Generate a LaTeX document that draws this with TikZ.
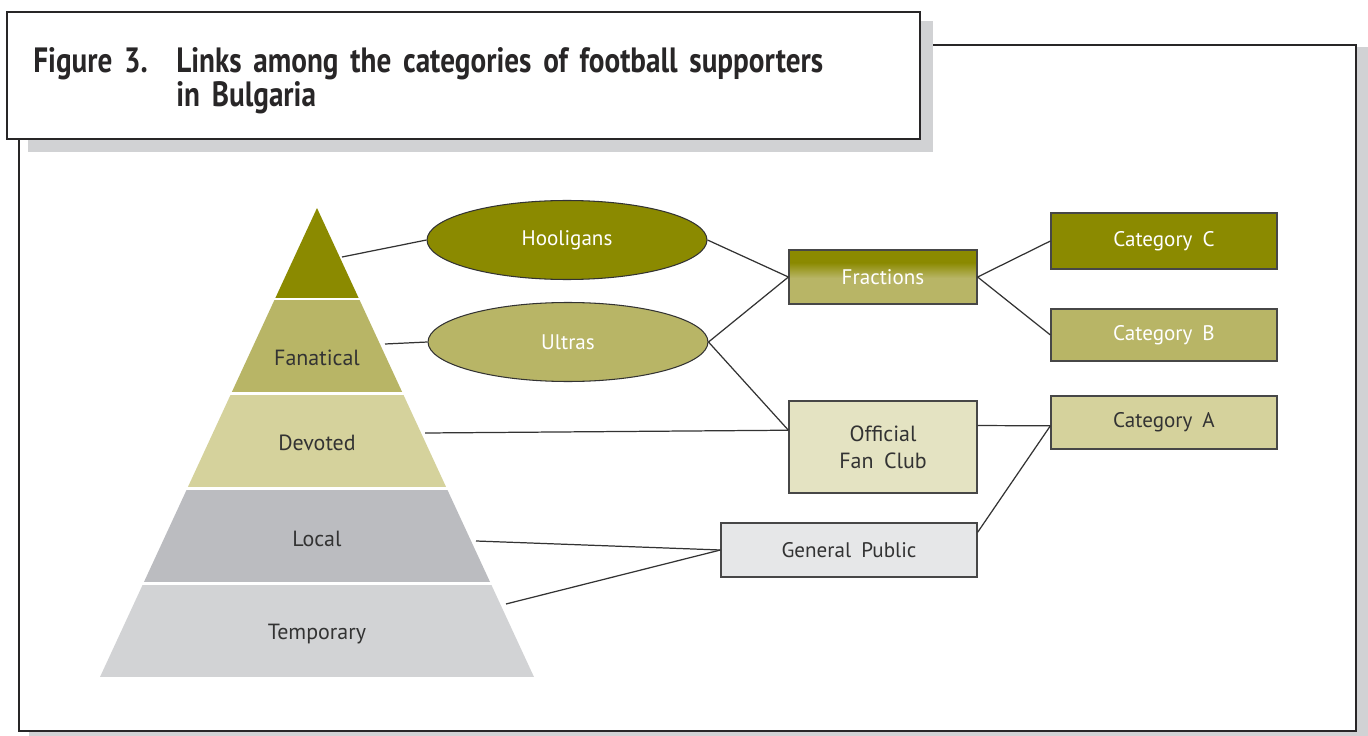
\documentclass[tikz,border=0pt]{standalone}
\usepackage{fontspec}
\setmainfont{PT Sans}[WordSpace=1.8]
\newfontfamily\titlefont{PT Sans}[FakeStretch=0.83,WordSpace=1.6]
\usetikzlibrary{shapes.geometric,calc}

\definecolor{olivedark}{RGB}{139,138,0}
\definecolor{olivemid}{RGB}{184,181,102}
\definecolor{olivelight}{RGB}{213,210,156}
\definecolor{olivepale}{RGB}{228,227,194}
\definecolor{graymid}{RGB}{187,188,192}
\definecolor{graylight}{RGB}{210,211,213}
\definecolor{graypale}{RGB}{230,231,232}
\definecolor{shadowgray}{RGB}{209,210,212}
\definecolor{inkgray}{RGB}{51,51,51}
\definecolor{framegray}{RGB}{40,38,39}

\begin{document}
\begin{tikzpicture}[x=0.02cm,y=-0.02cm,
  frame/.style={draw=framegray,line width=1.4pt,fill=white},
  box/.style={draw=inkgray!90,line width=0.7pt,rectangle,inner sep=0pt,
    font=\fontsize{12}{15}\selectfont,text=inkgray,align=center},
  oval/.style={draw=inkgray,line width=0.6pt,ellipse,inner sep=0pt,
    minimum width=5.6cm,minimum height=1.58cm,
    font=\fontsize{12}{15}\selectfont,text=white},
  plabel/.style={font=\fontsize{12.5}{15}\selectfont,text=inkgray},
  link/.style={draw=inkgray,line width=0.7pt}]
\useasboundingbox (0,0) rectangle (1368,736);

% frames with shadows
\fill[shadowgray] (29,47) rectangle (1368,736);
\draw[frame] (19,45) rectangle (1356,731);
\fill[shadowgray] (28,21) rectangle (933,152);
\draw[frame] (7,12) rectangle (920,139);
\node[anchor=base west,inner sep=0pt,font=\titlefont\bfseries\fontsize{20}{19.4}\selectfont,text=framegray]
  (fig) at (33,73) {Figure 3.};
\node[anchor=base west,inner sep=0pt,align=left,font=\titlefont\bfseries\fontsize{20}{19.4}\selectfont,text=framegray]
  (title) at (176,107) {Links among the categories of football supporters\\in Bulgaria};

% pyramid
\begin{scope}
  \clip (317,208) -- (534,677) -- (100,677) -- cycle;
  \foreach \t/\b/\c in {208/298/olivedark,300/392/olivemid,395/487/olivelight,
                        490/582/graymid,585/677/graylight}
    \fill[\c] (90,\t) rectangle (545,\b);
\end{scope}
\node[plabel] (fanatical) at (317,358) {Fanatical};
\node[plabel] (devoted) at (317,443) {Devoted};
\node[plabel] (local) at (317,539) {Local};
\node[plabel] (temporary) at (317,634) {Temporary};
\coordinate (top) at (342,257);
\coordinate (fanout) at (385,344);
\coordinate (devout) at (425,433);
\coordinate (locout) at (476,541);
\coordinate (tempout) at (506,604);

% groups
\node[oval,fill=olivedark] (hooligans) at (567,240) {Hooligans};
\node[oval,fill=olivemid] (ultras) at (568,342) {Ultras};
\node[box,fill=olivemid,text=white,minimum width=3.76cm,minimum height=1.08cm,
  path picture={
    \fill[olivedark] (path picture bounding box.north west) rectangle
      ([yshift=-0.26cm]path picture bounding box.north east);
    \shade[top color=olivedark,bottom color=olivemid]
      ([yshift=-0.25cm]path picture bounding box.north west) rectangle
      ([yshift=-0.56cm]path picture bounding box.north east);}]
  (fractions) at (883,277) {Fractions};
\node[box,fill=olivepale,minimum width=3.76cm,minimum height=1.84cm,
  font=\fontsize{12.5}{15.4pt}\selectfont] (club) at (883,447) {Official\\Fan Club};
\node[box,fill=graypale,minimum width=5.12cm,minimum height=1.08cm] (public) at (849,550) {General Public};

% categories
\node[box,fill=olivedark,text=white,minimum width=4.52cm,minimum height=1.12cm] (catc) at (1164,241) {Category C};
\node[box,fill=olivemid,text=white,minimum width=4.52cm,minimum height=1.04cm] (catb) at (1164,335) {Category B};
\node[box,fill=olivelight,minimum width=4.52cm,minimum height=1.06cm] (cata) at (1164,422.5) {Category A};

\coordinate (clubin) at ($(club.north west)!0.32!(club.south west)$);
\coordinate (clubout) at ($(club.north east)!0.27!(club.south east)$);
\coordinate (catain) at ($(cata.north west)!0.56!(cata.south west)$);
\coordinate (pubout) at ($(public.north east)!0.18!(public.south east)$);

% links
\draw[link] (top) -- (hooligans.west);
\draw[link] (fanout) -- (ultras.west);
\draw[link] (devout) -- (clubin);
\draw[link] (locout) -- (public.west);
\draw[link] (tempout) -- (public.west);
\draw[link] (hooligans.east) -- (fractions.west);
\draw[link] (ultras.east) -- (fractions.west);
\draw[link] (ultras.east) -- (clubin);
\draw[link] (fractions.east) -- (catc.west);
\draw[link] (fractions.east) -- (catb.west);
\draw[link] (clubout) -- (catain);
\draw[link] (pubout) -- (catain);
\end{tikzpicture}
\end{document}
